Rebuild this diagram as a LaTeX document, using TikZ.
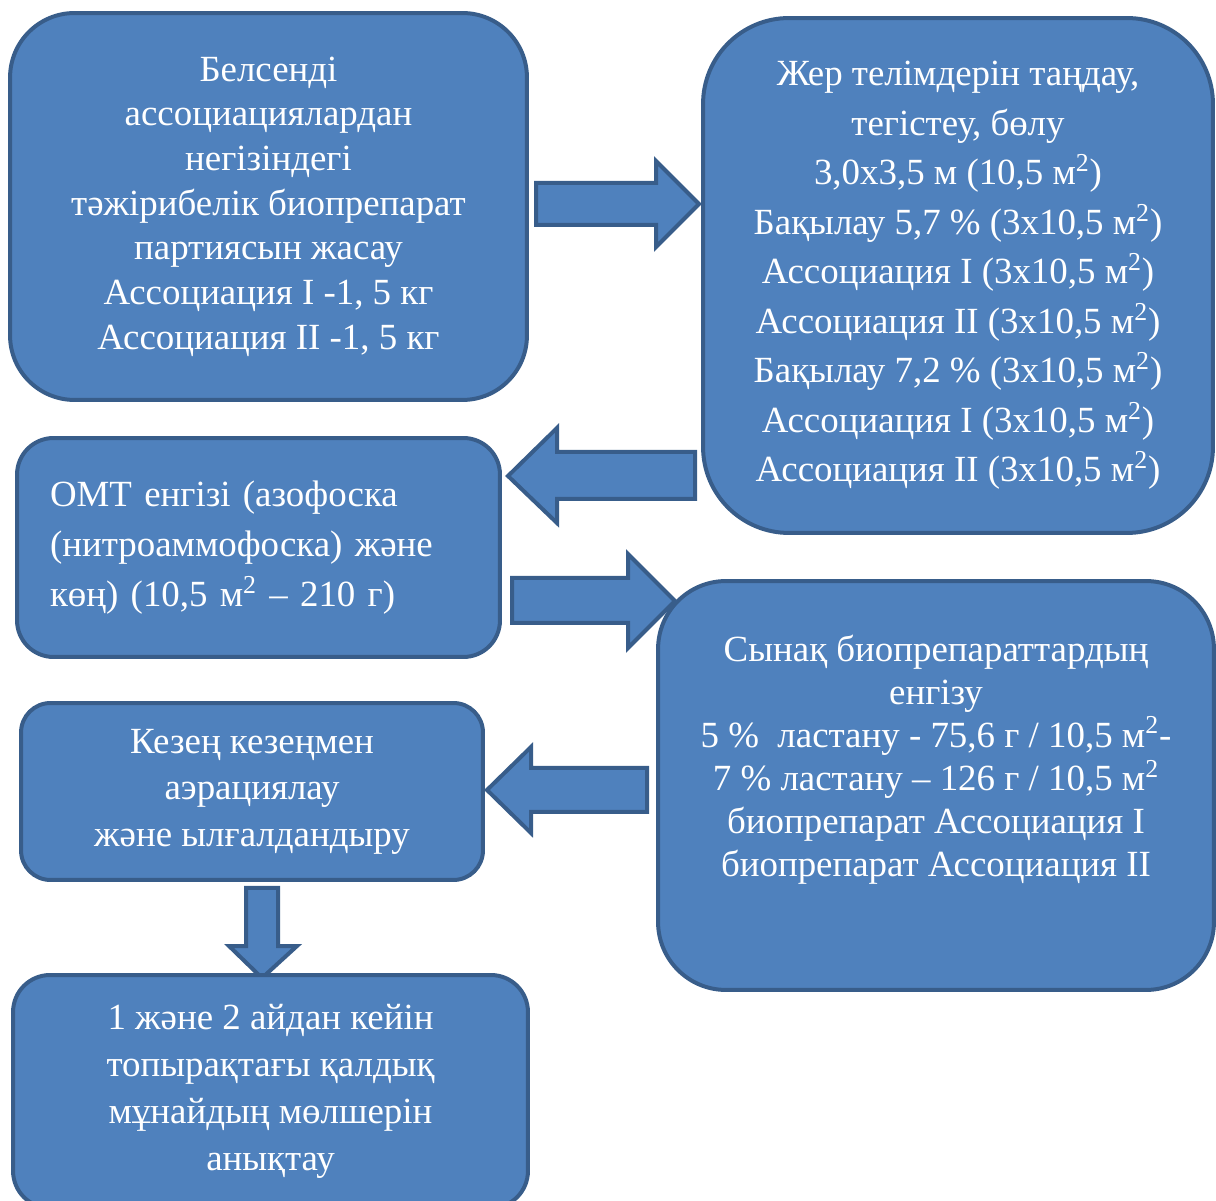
\documentclass[tikz,border=0pt]{standalone}
\usepackage{fontspec}
\setmainfont{Liberation Serif}
\usepackage{tkz-euclide}
\tikzset{>=stealth}
\definecolor{boxblue}{HTML}{4F81BD}
\definecolor{boxedge}{HTML}{385D8A}
\tikzset{
  stagebox/.style={draw=boxedge, fill=boxblue, line width=0.08cm, text=white, align=center, inner sep=0pt},
  blockarrow/.style={draw=boxedge, fill=boxblue, line width=0.08cm, line join=miter}
}

\begin{document}
\begin{tikzpicture}[x=0.02cm, y=0.02cm]
\clip (0,0) rectangle (1216,1200);
% block arrows
\tkzDefPoints{536/1017/A1, 656/1017/A2, 656/1039/A3, 699/996/A4, 656/953/A5, 656/975/A6, 536/975/A7}
\tkzDefPoints{695/748/B1, 557/748/B2, 557/772/B3, 508/724/B4, 557/677/B5, 557/701/B6, 695/701/B7}
\tkzDefPoints{512/622/C1, 628/622/C2, 628/646/C3, 675/599/C4, 628/552/C5, 628/577/C6, 512/577/C7}
\tkzDefPoints{647/432/D1, 531/432/D2, 531/453/D3, 487/410/D4, 531/367/D5, 531/388/D6, 647/388/D7}
\tkzDefPoints{246/312/E1, 278/312/E2, 278/254/E3, 297/254/E4, 262/222/E5, 229/254/E6, 246/254/E7}
\tkzDrawPolygon[blockarrow](A1,A2,A3,A4,A5,A6,A7)
\tkzDrawPolygon[blockarrow](B1,B2,B3,B4,B5,B6,B7)
\tkzDrawPolygon[blockarrow](C1,C2,C3,C4,C5,C6,C7)
\tkzDrawPolygon[blockarrow](D1,D2,D3,D4,D5,D6,D7)
\tkzDrawPolygon[blockarrow](E1,E2,E3,E4,E5,E6,E7)
% stages
\node[stagebox, minimum width=10.34cm, minimum height=7.74cm, rounded corners=1.29cm,
  font=\fontsize{21pt}{25.4pt}\selectfont] (prep) at (268.5,993.5)
  {Белсенді\\ассоциациялардан\\негізіндегі\\тәжірибелік биопрепарат\\партиясын жасау\\Ассоциация I -1, 5 кг\\Ассоциация II -1, 5 кг};
\node[stagebox, minimum width=10.2cm, minimum height=10.3cm, rounded corners=1.72cm,
  font=\fontsize{21pt}{28.2pt}\selectfont] (plots) at (958,924.5)
  {Жер телімдерін таңдау,\\тегістеу, бөлу\\3,0х3,5 м (10,5 м\textsuperscript{2})\\Бақылау 5,7 \% (3х10,5 м\textsuperscript{2})\\Ассоциация I (3х10,5 м\textsuperscript{2})\\Ассоциация II (3х10,5 м\textsuperscript{2})\\Бақылау 7,2 \% (3х10,5 м\textsuperscript{2})\\Ассоциация I (3х10,5 м\textsuperscript{2})\\Ассоциация II (3х10,5 м\textsuperscript{2})};
\node[stagebox, minimum width=9.66cm, minimum height=4.38cm, rounded corners=0.73cm,
  align=left, text width=8.34cm, inner xsep=0.66cm,
  font=\fontsize{21pt}{28.5pt}\selectfont] (fert) at (258.5,652.5)
  {ОМТ енгізі (азофоска\\(нитроаммофоска) және\\көң) (10,5 м\textsuperscript{2} – 210 г)};
\node[stagebox, minimum width=11.12cm, minimum height=8.18cm, rounded corners=1.36cm,
  font=\fontsize{21pt}{24.5pt}\selectfont] (apply) at (936,414.5)
  {Сынақ биопрепараттардың\\енгізу\\5 \%~ ластану - 75,6 г / 10,5 м\textsuperscript{2}-\\7 \% ластану – 126 г / 10,5 м\textsuperscript{2}\\биопрепарат Ассоциация I\\биопрепарат Ассоциация II\rule[-1.2cm]{0pt}{0pt}};
\node[stagebox, minimum width=9.24cm, minimum height=3.54cm, rounded corners=0.59cm,
  font=\fontsize{21pt}{26.5pt}\selectfont] (aer) at (252,408.5)
  {Кезең кезеңмен\\аэрациялау\\және ылғалдандыру};
\node[stagebox, minimum width=10.3cm, minimum height=4.66cm, rounded corners=0.74cm,
  font=\fontsize{21pt}{26.7pt}\selectfont] (oil) at (270.5,108.5)
  {1 және 2 айдан кейін\\топырақтағы қалдық\\мұнайдың мөлшерін\\анықтау};
\end{tikzpicture}
\end{document}
